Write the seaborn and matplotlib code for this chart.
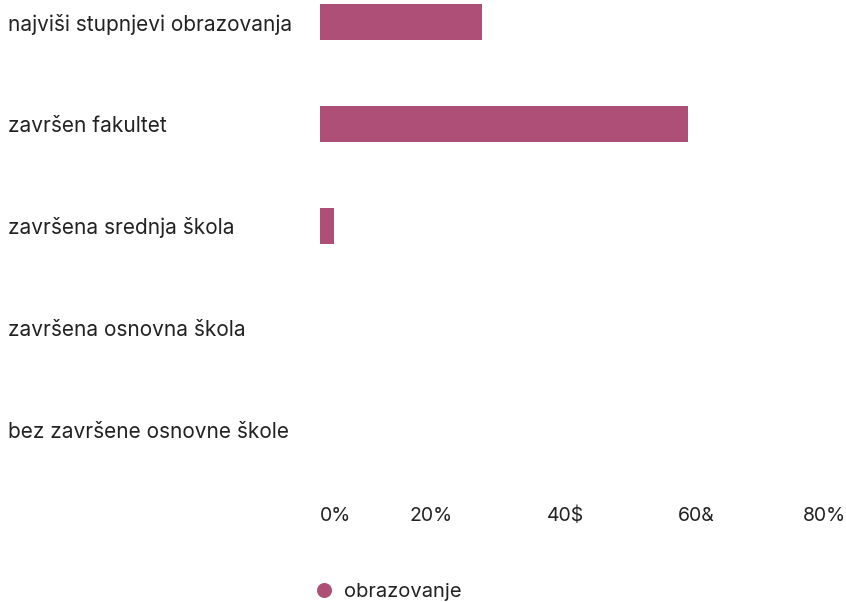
import matplotlib
matplotlib.use("Agg")
import matplotlib.pyplot as plt
from matplotlib.lines import Line2D
import matplotlib.transforms as mtransforms
import seaborn as sns
import pandas as pd

# Education levels and shares (%)
categories = [
    "najviši stupnjevi obrazovanja",
    "završen fakultet",
    "završena srednja škola",
    "završena osnovna škola",
    "bez završene osnovne škole",
]
values = [24.7, 56.2, 2.1, 0, 0]
series_name = "obrazovanje"
x_ticks = [0, 20, 40, 60, 80]
x_tick_labels = ["0%", "20%", "40$", "60&", "80%"]

bar_color = "#ad4f76"
text_color = "#222222"

sns.set_theme(style="white")
plt.rcParams["font.family"] = ["Inter", "DejaVu Sans"]

df = pd.DataFrame({"level": categories, "share": values})

W, H, DPI = 846, 602, 100
fig = plt.figure(figsize=(W / DPI, H / DPI), dpi=DPI)
ax_left, ax_right, ax_top, ax_bottom = 320, 846, 0, 490
ax = fig.add_axes([ax_left / W, 1 - ax_bottom / H,
                   (ax_right - ax_left) / W, (ax_bottom - ax_top) / H])

sns.barplot(data=df, x="share", y="level", orient="h", color=bar_color,
            width=0.35, linewidth=0, saturation=1, ax=ax)

ax.set_xlim(0, 80.3)
ax.set_ylim(4.59, -0.216)
ax.set_xlabel("")
ax.set_ylabel("")
for s in ax.spines.values():
    s.set_visible(False)

ax.set_xticks(x_ticks)
ax.set_xticklabels(x_tick_labels, fontsize=14, color=text_color)
ax.tick_params(axis="x", length=0, pad=12)
nudge = mtransforms.ScaledTranslation(2 / DPI, 0, fig.dpi_scale_trans)
for i, lbl in enumerate(ax.get_xticklabels()):
    if i == 0:
        lbl.set_horizontalalignment("left")
    else:
        lbl.set_horizontalalignment("right")
        lbl.set_transform(lbl.get_transform() + nudge)

ax.tick_params(axis="y", length=0, pad=(ax_left - 8) * 72 / DPI)
for lbl in ax.get_yticklabels():
    lbl.set_horizontalalignment("left")
    lbl.set_fontsize(15)
    lbl.set_color(text_color)

handle = Line2D([], [], marker="o", linestyle="none", markersize=10.8,
                markerfacecolor=bar_color, markeredgewidth=0)
fig.legend([handle], [series_name], loc="center left",
           bbox_to_anchor=(296 / W, 1 - 592 / H), frameon=False,
           fontsize=14.5, handletextpad=0.5, handlelength=1.0,
           labelcolor=text_color)

fig.savefig("out.png", dpi=DPI)
